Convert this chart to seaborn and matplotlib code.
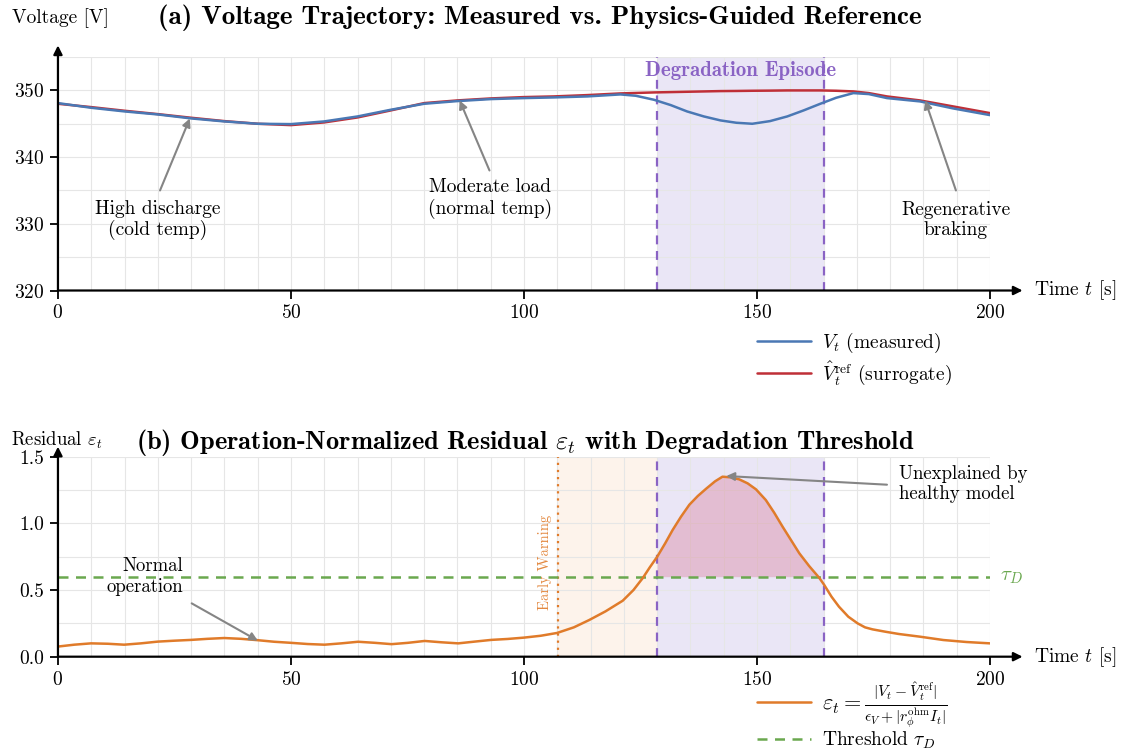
import numpy as np
import pandas as pd
import matplotlib
matplotlib.use("Agg")
import matplotlib.pyplot as plt
from matplotlib.ticker import MultipleLocator, FormatStrFormatter
import seaborn as sns

# ---------------- data ----------------
t_v = [0, 7.1, 14.3, 21.4, 28.6, 35.7, 42.9, 50, 57.1, 64.3, 71.4, 78.6, 85.7,
       92.9, 100, 106.4, 113.6, 120.7, 124, 127.9, 131.5, 135, 138.6, 142.2,
       145.6, 149, 152.8, 156.5, 160, 163.6, 167, 170.7, 174, 177.9, 185,
       192.1, 200]
v_measured = [348.1, 347.4, 346.85, 346.4, 345.8, 345.35, 345.0, 344.95, 345.35,
              346.1, 347.1, 348.0, 348.4, 348.7, 348.85, 348.95, 349.1, 349.4,
              349.2, 348.6, 347.8, 346.85, 346.1, 345.5, 345.15, 345.0, 345.4,
              346.1, 347.0, 348.0, 348.9, 349.6, 349.45, 348.85, 348.35, 347.3,
              346.3]
v_reference = [348.0, 347.5, 346.95, 346.45, 345.9, 345.4, 345.0, 344.8, 345.2,
               345.95, 347.0, 348.1, 348.5, 348.8, 349.0, 349.1, 349.3, 349.55,
               349.62, 349.7, 349.75, 349.8, 349.85, 349.9, 349.92, 349.95,
               349.97, 350.0, 350.0, 350.0, 349.95, 349.85, 349.6, 349.1, 348.5,
               347.6, 346.6]

t_eps = [0, 3.5, 7.1, 10.7, 14.2, 17.8, 21.4, 25, 28.6, 32.1, 35.7, 39.3, 42.8,
         46.4, 50, 53.6, 57.2, 60.8, 64.4, 68, 71.6, 75.1, 78.7, 82.3, 85.9,
         89.4, 93, 96.5, 100, 103.6, 107.1, 110.7, 114, 117.5, 121.2, 123.5,
         125.5, 127, 128.6, 130.3, 131.9, 133.7, 135.5, 137.3, 139.1, 141,
         142.6, 144.4, 146.2, 148, 149.8, 151.9, 153.7, 155.5, 157.3, 159.1,
         161.2, 163.4, 164.4, 166, 167.6, 169.6, 171.6, 173.2, 174.8, 177.6,
         180.5, 185, 190, 195, 200]
residual = [0.076, 0.09, 0.100, 0.097, 0.090, 0.100, 0.113, 0.120, 0.126, 0.134,
            0.140, 0.134, 0.124, 0.112, 0.104, 0.095, 0.090, 0.100, 0.112, 0.104,
            0.094, 0.104, 0.118, 0.108, 0.100, 0.113, 0.126, 0.133, 0.143, 0.157,
            0.178, 0.22, 0.275, 0.34, 0.42, 0.50, 0.59, 0.67, 0.75, 0.85, 0.95,
            1.05, 1.14, 1.205, 1.26, 1.315, 1.35, 1.345, 1.33, 1.30, 1.255, 1.175,
            1.08, 0.975, 0.875, 0.775, 0.68, 0.59, 0.54, 0.45, 0.375, 0.30, 0.25,
            0.22, 0.205, 0.187, 0.17, 0.15, 0.125, 0.11, 0.10]

threshold = 0.6
episode_start, episode_end = 128.6, 164.3
early_warning = 107.2

x_ticks = [0, 50, 100, 150, 200]
v_ticks = [320, 330, 340, 350]
eps_ticks = [0.0, 0.5, 1.0, 1.5]

# ---------------- style ----------------
sns.set_theme(style="whitegrid")
plt.rcParams.update({
    "font.family": "serif",
    "font.serif": ["cmr10"],
    "mathtext.fontset": "cm",
    "axes.formatter.use_mathtext": True,
    "axes.unicode_minus": False,
    "text.color": "black",
    "axes.labelcolor": "black",
    "xtick.color": "black",
    "ytick.color": "black",
})

C_BLUE = "#4a78b4"
C_RED = "#bf2f37"
C_ORANGE = "#e07b2a"
C_GREEN = "#6aa84f"
C_PURPLE = "#8a63c4"
C_GRID = "#e6e6e6"
C_ARROW = "#858585"
FS = 14
TITLE_FS = 19.5

fig = plt.figure(figsize=(11.21, 7.53), dpi=100)
ax1 = fig.add_axes([0.0517, 0.6142, 0.8314, 0.3100])
ax2 = fig.add_axes([0.0517, 0.1279, 0.8314, 0.2656])


def style_axes(ax, ylim, yminor, yticks, fmt=None):
    ax.set_xlim(0, 200)
    ax.set_ylim(*ylim)
    ax.set_xticks(x_ticks)
    ax.set_yticks(yticks)
    ax.xaxis.set_minor_locator(MultipleLocator(50 / 7))
    ax.yaxis.set_minor_locator(MultipleLocator(yminor))
    if fmt:
        ax.yaxis.set_major_formatter(FormatStrFormatter(fmt))
    ax.grid(False)
    ax.grid(which="minor", color=C_GRID, lw=0.8)
    ax.grid(which="major", color=C_GRID, lw=0.8)
    ax.set_axisbelow(True)
    for s in ax.spines.values():
        s.set_visible(False)
    ax.tick_params(which="major", direction="out", length=6, width=1.3,
                   color="black", labelsize=FS, bottom=True, left=True, pad=4)
    ax.tick_params(which="minor", length=0)
    ax.set_facecolor("white")
    # axis arrows
    ax.annotate("", xy=(1.035, 0), xytext=(0, 0), xycoords="axes fraction",
                arrowprops=dict(arrowstyle="-|>", color="black", lw=1.6,
                                mutation_scale=13, shrinkA=0, shrinkB=0),
                annotation_clip=False)
    ax.annotate("", xy=(0, 1.05), xytext=(0, 0), xycoords="axes fraction",
                arrowprops=dict(arrowstyle="-|>", color="black", lw=1.6,
                                mutation_scale=13, shrinkA=0, shrinkB=0),
                annotation_clip=False)
    ax.text(1.047, 0, r"Time $t$ [s]", transform=ax.transAxes, ha="left",
            va="center", fontsize=FS)
    ax.set_xlabel("")
    ax.set_ylabel("")


arrow_kw = dict(arrowstyle="-|>", color=C_ARROW, lw=1.5, mutation_scale=12,
                shrinkA=0, shrinkB=0)

# ---------------- (a) voltage ----------------
df_v = pd.DataFrame({"t": t_v, "measured": v_measured, "reference": v_reference})
ax1.axvspan(episode_start, episode_end, color="#8c78d0", alpha=0.18, lw=0, zorder=0.5)
for xv in (episode_start, episode_end):
    ax1.axvline(xv, color=C_PURPLE, ls=(0, (4, 3)), lw=1.6, zorder=1)
sns.lineplot(data=df_v, x="t", y="measured", ax=ax1, color=C_BLUE, lw=1.8,
             label=r"$V_t$ (measured)", zorder=3)
sns.lineplot(data=df_v, x="t", y="reference", ax=ax1, color=C_RED, lw=1.8,
             label=r"$\hat{V}_t^{\mathrm{ref}}$ (surrogate)", zorder=2.5)
style_axes(ax1, (320, 355), 5, v_ticks)
ax1.text((episode_start + episode_end) / 2, 353, "Degradation Episode",
         ha="center", va="center", color=C_PURPLE, fontsize=15,
         fontfamily="cmb10", zorder=4)

ax1.annotate("", xy=(28.3, 345.8), xytext=(21.9, 335), arrowprops=arrow_kw)
ax1.text(21.4, 330.6, "High discharge\n(cold temp)", ha="center", va="center",
         fontsize=FS, linespacing=1.15)
ax1.annotate("", xy=(86.2, 348.5), xytext=(92.6, 338), arrowprops=arrow_kw)
ax1.text(92.8, 333.8, "Moderate load\n(normal temp)", ha="center", va="center",
         fontsize=FS, linespacing=1.15)
ax1.annotate("", xy=(186.1, 348.5), xytext=(192.7, 335), arrowprops=arrow_kw)
ax1.text(192.7, 330.6, "Regenerative\nbraking", ha="center", va="center",
         fontsize=FS, linespacing=1.15)

h1, l1 = ax1.get_legend_handles_labels()
ax1.legend(h1, l1, loc="upper left", bbox_to_anchor=(757 / 1121, 1 - 331 / 753),
           bbox_transform=fig.transFigure, frameon=False, fontsize=FS,
           handlelength=2.8, handletextpad=0.55, borderpad=0, borderaxespad=0,
           labelspacing=0.2)

fig.text(60 / 1121, 1 - 18 / 753, "Voltage [V]", ha="center", va="center",
         fontsize=FS)
fig.text(540 / 1121, 1 - 18 / 753,
         "(a) Voltage Trajectory: Measured vs. Physics-Guided Reference",
         ha="center", va="center", fontsize=TITLE_FS, fontfamily="cmb10")

# ---------------- (b) residual ----------------
df_e = pd.DataFrame({"t": t_eps, "eps": residual})
ax2.axvspan(early_warning, episode_start, color="#f5b57a", alpha=0.15, lw=0, zorder=0.5)
ax2.axvspan(episode_start, episode_end, color="#8c78d0", alpha=0.18, lw=0, zorder=0.5)
for xv in (episode_start, episode_end):
    ax2.axvline(xv, color=C_PURPLE, ls=(0, (4, 3)), lw=1.6, zorder=1)
ax2.axvline(early_warning, color=C_ORANGE, ls=(0, (1, 2.2)), lw=1.6, zorder=1)

t_fill = np.linspace(episode_start, episode_end, 300)
e_fill = np.interp(t_fill, t_eps, residual)
ax2.fill_between(t_fill, threshold, e_fill, where=e_fill >= threshold,
                 color="#d2436a", alpha=0.25, lw=0, zorder=1.5)

sns.lineplot(data=df_e, x="t", y="eps", ax=ax2, color=C_ORANGE, lw=1.8,
             label=r"$\varepsilon_t = \frac{|V_t - \hat{V}_t^{\mathrm{ref}}|}"
                   r"{\epsilon_V + |r_\phi^{\mathrm{ohm}} I_t|}$", zorder=3)
ax2.axhline(threshold, color=C_GREEN, ls=(0, (4, 3)), lw=1.8, zorder=2,
            label=r"Threshold $\tau_D$")
style_axes(ax2, (0, 1.5), 0.25, eps_ticks, fmt="%.1f")

ax2.text(202.2, threshold, r"$\tau_D$", color=C_GREEN, fontsize=FS + 1,
         ha="left", va="center", clip_on=False)
ax2.text(early_warning - 2.6, 0.71, "Early Warning", rotation=90,
         color=C_ORANGE, fontsize=10.5, ha="center", va="center", alpha=0.9)

ax2.annotate("", xy=(42.9, 0.12), xytext=(28.7, 0.40), arrowprops=arrow_kw)
ax2.text(26.8, 0.60, "Normal\noperation", ha="right", va="center",
         fontsize=FS - 0.5, linespacing=1.2)
ax2.annotate("", xy=(143.4, 1.355), xytext=(177.9, 1.29), arrowprops=arrow_kw)
ax2.text(180.5, 1.295, "Unexplained by\nhealthy model", ha="left", va="center",
         fontsize=FS - 0.5, linespacing=1.2)

h2, l2 = ax2.get_legend_handles_labels()
leg2 = ax2.legend(h2, l2, loc="lower left",
                  bbox_to_anchor=(757 / 1121, 1 - 751 / 753),
                  bbox_transform=fig.transFigure, frameon=False, fontsize=FS,
                  handlelength=2.8, handletextpad=0.55, borderpad=0,
                  borderaxespad=0, labelspacing=0.0)
leg2.get_texts()[0].set_fontsize(16)

fig.text(57 / 1121, 1 - 440 / 753, r"Residual $\varepsilon_t$", ha="center",
         va="center", fontsize=FS - 0.5)
fig.text(525 / 1121, 1 - 442 / 753,
         r"(b) Operation-Normalized Residual $\varepsilon_t$ with Degradation Threshold",
         ha="center", va="center", fontsize=19, fontfamily="cmb10")

fig.savefig("out.png", dpi=100, facecolor="white")
